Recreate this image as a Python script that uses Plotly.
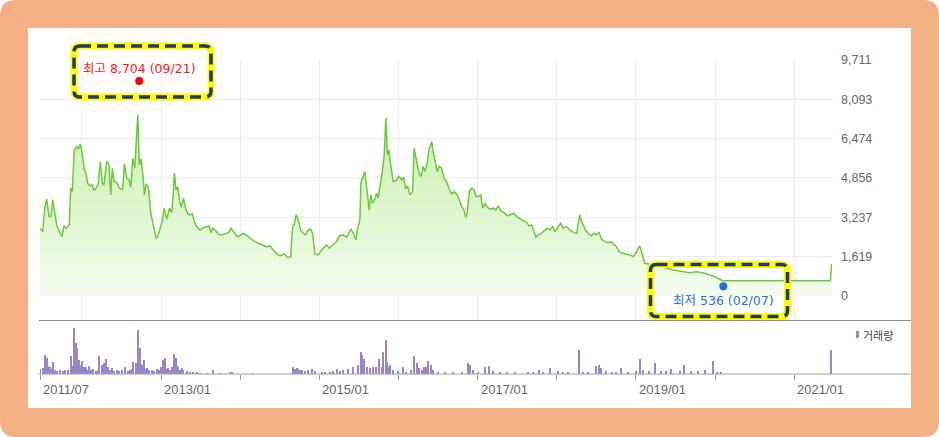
import pandas as pd
import plotly.graph_objects as go

# closing price, dates as decimal years
price_year = [
    2011.472, 2011.506, 2011.535, 2011.557, 2011.586, 2011.611, 2011.633, 2011.662, 2011.683, 2011.716,
    2011.750, 2011.775, 2011.801, 2011.842, 2011.860, 2011.880, 2011.905, 2011.936, 2011.956, 2011.981,
    2012.006, 2012.032, 2012.053, 2012.074, 2012.104, 2012.129, 2012.154, 2012.188, 2012.208, 2012.234,
    2012.259, 2012.280, 2012.314, 2012.340, 2012.365, 2012.385, 2012.407, 2012.448, 2012.473, 2012.516,
    2012.537, 2012.567, 2012.596, 2012.617, 2012.643, 2012.668, 2012.684, 2012.706, 2012.726, 2012.747,
    2012.777, 2012.789, 2012.811, 2012.840, 2012.870, 2012.903, 2012.937, 2012.958, 2012.996, 2013.016,
    2013.038, 2013.072, 2013.105, 2013.135, 2013.155, 2013.168, 2013.189, 2013.211, 2013.231, 2013.253,
    2013.282, 2013.303, 2013.332, 2013.366, 2013.395, 2013.420, 2013.451, 2013.492, 2013.534, 2013.577,
    2013.606, 2013.631, 2013.653, 2013.682, 2013.723, 2013.766, 2013.808, 2013.850, 2013.884, 2013.913,
    2013.963, 2013.997, 2014.039, 2014.102, 2014.165, 2014.229, 2014.292, 2014.335, 2014.376, 2014.418,
    2014.461, 2014.503, 2014.557, 2014.600, 2014.638, 2014.663, 2014.683, 2014.705, 2014.734, 2014.764,
    2014.797, 2014.827, 2014.860, 2014.890, 2014.915, 2014.944, 2014.986, 2015.029, 2015.058, 2015.092,
    2015.125, 2015.175, 2015.218, 2015.251, 2015.302, 2015.345, 2015.399, 2015.428, 2015.462, 2015.491,
    2015.513, 2015.525, 2015.547, 2015.576, 2015.597, 2015.630, 2015.652, 2015.673, 2015.702, 2015.723,
    2015.744, 2015.765, 2015.799, 2015.819, 2015.841, 2015.862, 2015.879, 2015.900, 2015.933, 2015.976,
    2016.005, 2016.039, 2016.068, 2016.090, 2016.115, 2016.144, 2016.178, 2016.198, 2016.229, 2016.258,
    2016.283, 2016.312, 2016.333, 2016.362, 2016.384, 2016.418, 2016.438, 2016.472, 2016.489, 2016.514,
    2016.544, 2016.573, 2016.607, 2016.640, 2016.670, 2016.703, 2016.734, 2016.766, 2016.797, 2016.826,
    2016.847, 2016.867, 2016.893, 2016.923, 2016.956, 2016.977, 2017.006, 2017.037, 2017.062, 2017.091,
    2017.120, 2017.154, 2017.196, 2017.230, 2017.259, 2017.289, 2017.331, 2017.373, 2017.415, 2017.457,
    2017.491, 2017.533, 2017.574, 2017.617, 2017.650, 2017.681, 2017.710, 2017.735, 2017.764, 2017.807,
    2017.848, 2017.883, 2017.912, 2017.946, 2017.975, 2018.004, 2018.047, 2018.080, 2018.122, 2018.164,
    2018.215, 2018.249, 2018.269, 2018.290, 2018.312, 2018.332, 2018.366, 2018.395, 2018.438, 2018.467,
    2018.501, 2018.534, 2018.564, 2018.606, 2018.648, 2018.691, 2018.723, 2018.754, 2018.787, 2018.830,
    2018.880, 2018.922, 2018.963, 2018.997, 2019.027, 2019.048, 2019.069, 2019.090, 2019.111, 2019.153,
    2019.216, 2019.301, 2019.385, 2019.468, 2019.574, 2019.679, 2019.764, 2019.869, 2019.973, 2020.037,
    2020.100, 2021.455, 2021.470,
]
price_close = [
    2789, 2650, 3680, 3983, 3268, 3268, 3955, 3337, 2925, 2650,
    2443, 2884, 2789, 2925, 4437, 4297, 6015, 6151, 6044, 6250,
    5879, 5191, 5055, 4643, 4532, 4573, 4338, 4478, 4643, 5533,
    4643, 4573, 5533, 5467, 4161, 5260, 4709, 4643, 4437, 4393,
    5438, 4849, 4779, 4478, 5671, 5260, 6151, 7457, 5397, 5630,
    4779, 4161, 4615, 4478, 3407, 2856, 2376, 2443, 2856, 3103,
    3613, 3159, 3613, 3433, 4297, 5055, 4367, 4478, 3955, 3654,
    4025, 3680, 3407, 3337, 3378, 3061, 2856, 2719, 2814, 2856,
    2884, 2608, 2789, 2719, 2554, 2513, 2554, 2608, 2789, 2650,
    2443, 2490, 2581, 2443, 2278, 2171, 2101, 2031, 2060, 1895,
    1730, 1648, 1730, 1578, 1619, 2856, 2925, 3337, 3131, 2719,
    2581, 2513, 2719, 2746, 2581, 1730, 1689, 1895, 2005, 2101,
    1964, 2101, 2237, 2472, 2513, 2418, 2746, 2608, 2307, 2884,
    3131, 4643, 4849, 5122, 4505, 3543, 4161, 3819, 3983, 4231,
    4025, 4437, 5191, 5740, 7320, 5809, 6015, 5467, 4709, 4750,
    4944, 4779, 4890, 4393, 4532, 4161, 4297, 6082, 5467, 5055,
    4917, 5328, 5122, 5467, 6015, 6357, 5946, 5397, 5122, 5328,
    5260, 4849, 4709, 4400, 4200, 4297, 4200, 3955, 3680, 3543,
    3241, 3407, 4297, 4437, 4367, 4093, 4093, 4161, 3613, 3819,
    3654, 3572, 3613, 3543, 3709, 3514, 3433, 3296, 3337, 3407,
    3268, 3200, 3103, 3020, 2884, 2925, 2650, 2418, 2513, 2581,
    2719, 2789, 2719, 2856, 2650, 2789, 2995, 2789, 2856, 2719,
    2608, 2581, 2995, 3337, 3061, 2925, 2691, 2581, 2472, 2581,
    2513, 2608, 2336, 2237, 2196, 2237, 2101, 2031, 1826, 1757,
    1730, 1689, 1619, 1757, 1950, 2060, 1826, 1551, 1346, 1318,
    1318, 1250, 1141, 1071, 1002, 960, 1002, 935, 824, 729,
    630, 630, 1318,
]

# trading volume (relative units)
vol_year = [
    2011.476, 2011.506, 2011.535, 2011.557, 2011.577, 2011.598, 2011.620, 2011.640, 2011.662, 2011.691,
    2011.725, 2011.759, 2011.788, 2011.822, 2011.860, 2011.880, 2011.902, 2011.923, 2011.944, 2011.965,
    2011.981, 2011.999, 2012.028, 2012.053, 2012.074, 2012.095, 2012.120, 2012.145, 2012.176, 2012.201,
    2012.221, 2012.251, 2012.280, 2012.306, 2012.335, 2012.356, 2012.378, 2012.407, 2012.441, 2012.473,
    2012.508, 2012.545, 2012.580, 2012.609, 2012.630, 2012.650, 2012.681, 2012.701, 2012.713, 2012.735,
    2012.751, 2012.764, 2012.785, 2012.802, 2012.819, 2012.852, 2012.883, 2012.912, 2012.946, 2012.975,
    2012.996, 2013.029, 2013.051, 2013.072, 2013.092, 2013.114, 2013.135, 2013.168, 2013.189, 2013.206,
    2013.218, 2013.240, 2013.261, 2013.282, 2013.324, 2013.366, 2013.408, 2013.451, 2013.492, 2013.577,
    2013.660, 2013.745, 2013.871, 2013.893, 2014.165, 2014.670, 2014.692, 2014.713, 2014.734, 2014.755,
    2014.784, 2014.818, 2014.856, 2014.903, 2014.944, 2015.029, 2015.071, 2015.134, 2015.176, 2015.218,
    2015.260, 2015.302, 2015.365, 2015.428, 2015.491, 2015.521, 2015.542, 2015.567, 2015.597, 2015.639,
    2015.681, 2015.723, 2015.756, 2015.787, 2015.807, 2015.837, 2015.857, 2015.879, 2015.900, 2015.933,
    2015.996, 2016.059, 2016.102, 2016.153, 2016.198, 2016.229, 2016.258, 2016.292, 2016.321, 2016.346,
    2016.375, 2016.405, 2016.438, 2016.501, 2016.586, 2016.691, 2016.797, 2016.876, 2016.901, 2016.943,
    2017.006, 2017.091, 2017.145, 2017.196, 2017.280, 2017.365, 2017.470, 2017.638, 2017.701, 2017.777,
    2017.828, 2017.912, 2018.016, 2018.080, 2018.143, 2018.282, 2018.332, 2018.395, 2018.492, 2018.534,
    2018.564, 2018.627, 2018.691, 2018.754, 2018.817, 2018.901, 2019.006, 2019.057, 2019.090, 2019.166,
    2019.237, 2019.322, 2019.385, 2019.448, 2019.553, 2019.607, 2019.700, 2019.784, 2019.869, 2019.973,
    2020.024, 2020.080, 2021.469,
]
vol_amount = [
    5, 6, 19, 16, 8, 7, 5, 12, 4, 3,
    4, 3, 4, 4, 18, 8, 46, 31, 26, 14,
    9, 13, 7, 7, 4, 8, 4, 5, 3, 4,
    18, 9, 11, 15, 7, 4, 6, 3, 4, 3,
    4, 7, 3, 4, 5, 12, 11, 7, 44, 26,
    10, 9, 14, 5, 6, 4, 4, 3, 5, 4,
    7, 14, 16, 5, 6, 4, 7, 20, 16, 8,
    7, 4, 6, 4, 3, 2, 2, 2, 1, 1,
    4, 1, 2, 2, 1, 7, 5, 6, 5, 4,
    4, 3, 4, 5, 3, 2, 2, 2, 3, 5,
    3, 4, 5, 7, 9, 22, 19, 15, 7, 6,
    7, 7, 15, 7, 22, 34, 12, 7, 9, 4,
    3, 7, 2, 4, 18, 11, 6, 4, 7, 7,
    13, 9, 4, 2, 2, 2, 2, 11, 9, 4,
    2, 7, 8, 3, 2, 2, 2, 2, 2, 4,
    2, 6, 3, 2, 2, 24, 2, 2, 8, 9,
    6, 3, 2, 2, 6, 2, 3, 15, 4, 3,
    11, 3, 3, 5, 3, 9, 3, 3, 4, 13,
    2, 2, 24,
]

high_year, high_value, high_label = 2012.724, 8850, "최고 8,704 (09/21)"
low_year, low_value, low_label = 2020.104, 400, "최저 536 (02/07)"

y_ticks = [0, 1619, 3237, 4856, 6474, 8093, 9711]
x_start, x_end = 2011.472, 2021.475
grid_years = [2012, 2013, 2014, 2015, 2016, 2017, 2018, 2019, 2020, 2021]
tick_years = [2013, 2014, 2015, 2016, 2017, 2018, 2019, 2020, 2021]
label_years = [2011.472, 2013, 2015, 2017, 2019, 2021]
x_labels = ["2011/07", "2013/01", "2015/01", "2017/01", "2019/01", "2021/01"]


def to_date(y):
    year = int(y)
    start = pd.Timestamp(year=year, month=1, day=1)
    length = (pd.Timestamp(year=year + 1, month=1, day=1) - start).days
    return start + pd.Timedelta(days=(y - year) * length)


# page geometry (pixels)
W, H = 939, 437
L, R, T, B = 40, 832, 60, 374
VOL_TOP = 320


def px(x):
    return (x - L) / (R - L)


def py(y):
    return (B - y) / (B - T)


def rounded(x0, y0, x1, y1, r):
    return (
        f"M {px(x0 + r)},{py(y0)} L {px(x1 - r)},{py(y0)} "
        f"Q {px(x1)},{py(y0)} {px(x1)},{py(y0 + r)} L {px(x1)},{py(y1 - r)} "
        f"Q {px(x1)},{py(y1)} {px(x1 - r)},{py(y1)} L {px(x0 + r)},{py(y1)} "
        f"Q {px(x0)},{py(y1)} {px(x0)},{py(y1 - r)} L {px(x0)},{py(y0 + r)} "
        f"Q {px(x0)},{py(y0)} {px(x0 + r)},{py(y0)} Z"
    )


price_dates = [to_date(v) for v in price_year]
vol_dates = [to_date(v) for v in vol_year]

fig = go.Figure()
fig.add_trace(go.Scatter(
    x=price_dates, y=price_close, mode="lines",
    line=dict(color="#6cc93c", width=1.5),
    fill="tozeroy",
    fillgradient=dict(type="vertical", colorscale=[[0, "#f4fcef"], [1, "#c8efab"]], start=0, stop=7500),
    hoverinfo="skip",
))
fig.add_trace(go.Bar(
    x=vol_dates, y=vol_amount, xaxis="x2", yaxis="y2",
    marker=dict(color="#9b85c9", line=dict(width=0)),
    width=5 * 86400000, hoverinfo="skip",
))
fig.add_trace(go.Scatter(
    x=[to_date(high_year)], y=[high_value], mode="markers",
    marker=dict(color="#ff0000", size=8), cliponaxis=False, hoverinfo="skip",
))
fig.add_trace(go.Scatter(
    x=[to_date(low_year)], y=[low_value], mode="markers",
    marker=dict(color="#1c6de0", size=8), cliponaxis=False, hoverinfo="skip",
))

split = py(VOL_TOP)
x_range = [to_date(x_start), to_date(x_end)]
axis_font = dict(family="Liberation Sans, Arial, sans-serif", size=12.5, color="#666666")

fig.update_layout(
    width=W, height=H,
    margin=dict(l=L, r=W - R, t=T, b=H - B, pad=0),
    paper_bgcolor="white", plot_bgcolor="rgba(0,0,0,0)",
    showlegend=False,
    xaxis=dict(
        domain=[0, 1], anchor="y", range=x_range,
        tickvals=[to_date(x_start)] + [to_date(v) for v in grid_years],
        showticklabels=False, ticks="", showgrid=True, gridcolor="#ececec", gridwidth=1,
        zeroline=False, showline=False,
    ),
    yaxis=dict(
        domain=[split, 1], anchor="x", side="right", range=[-988, 9711],
        tickvals=y_ticks, ticktext=[f"{v:,}" for v in y_ticks],
        showgrid=True, gridcolor="#ececec", gridwidth=1, zeroline=False, showline=False,
        ticks="", ticklabelstandoff=8, tickfont=axis_font,
    ),
    xaxis2=dict(
        domain=[0, 1], anchor="y2", range=x_range, matches="x",
        tickvals=[to_date(x_start)] + [to_date(v) for v in tick_years],
        showticklabels=False, ticks="outside", ticklen=5, tickcolor="#999999", tickwidth=1,
        showgrid=False, zeroline=False, showline=False,
    ),
    yaxis2=dict(
        domain=[0, split], anchor="x2", range=[0, 54],
        showticklabels=False, showgrid=False, zeroline=False, showline=False,
    ),
)

shapes = [
    dict(type="path", xref="paper", yref="paper", path=rounded(0, 0, W, H, 16),
         fillcolor="#f2b084", line=dict(width=0), layer="below"),
    dict(type="rect", xref="paper", yref="paper", x0=px(28), x1=px(911), y0=py(408), y1=py(28),
         fillcolor="white", line=dict(width=0), layer="below"),
    dict(type="line", xref="paper", yref="paper", x0=px(39), x1=px(911), y0=py(320.5), y1=py(320.5),
         line=dict(color="#8e8e8e", width=1)),
    dict(type="line", xref="paper", yref="paper", x0=px(39), x1=px(911), y0=py(374), y1=py(374),
         line=dict(color="#a0a0a0", width=1)),
    dict(type="rect", xref="paper", yref="paper", x0=px(856), x1=px(859), y0=py(338), y1=py(331),
         fillcolor="#9b85c9", line=dict(width=0)),
]
for box in [(74, 46, 211, 97), (650.5, 264.5, 787.5, 316.5)]:
    shapes.append(dict(type="path", xref="paper", yref="paper", path=rounded(*box, 6),
                       line=dict(color="#ffff00", width=7)))
    shapes.append(dict(type="path", xref="paper", yref="paper", path=rounded(*box, 6),
                       line=dict(color="#1f3b66", width=3.5, dash="11px,6px")))
fig.update_layout(shapes=shapes)

annotations = []
for year, text in zip(label_years, x_labels):
    annotations.append(dict(
        x=to_date(year), xref="x2", y=py(389), yref="paper", text=text, showarrow=False,
        xanchor="left", yanchor="middle", xshift=1,
        font=dict(family="Liberation Sans, Arial, sans-serif", size=13, color="#666666"),
    ))
label_font = "DejaVu Sans, Noto Sans CJK KR, sans-serif"
annotations.append(dict(
    x=to_date(high_year), y=high_value, xref="x", yref="y", text=high_label, showarrow=False,
    yshift=12, xanchor="center", yanchor="middle",
    font=dict(family=label_font, size=12.5, color="#ff1a1a"),
))
annotations.append(dict(
    x=to_date(low_year), y=low_value, xref="x", yref="y", text=low_label, showarrow=False,
    yshift=-14, xanchor="center", yanchor="middle",
    font=dict(family=label_font, size=12.5, color="#2a6fd8"),
))
annotations.append(dict(
    x=px(861), y=py(335), xref="paper", yref="paper", text="거래량", showarrow=False,
    xanchor="left", yanchor="middle",
    font=dict(family="Noto Sans CJK KR", size=11, color="#444444"),
))
fig.update_layout(annotations=annotations)

# drop the browser's default page margin so the figure sits at the window corner
fig.write_html("out.html", config={"displayModeBar": False},
               post_script="document.body.style.margin='0';")
